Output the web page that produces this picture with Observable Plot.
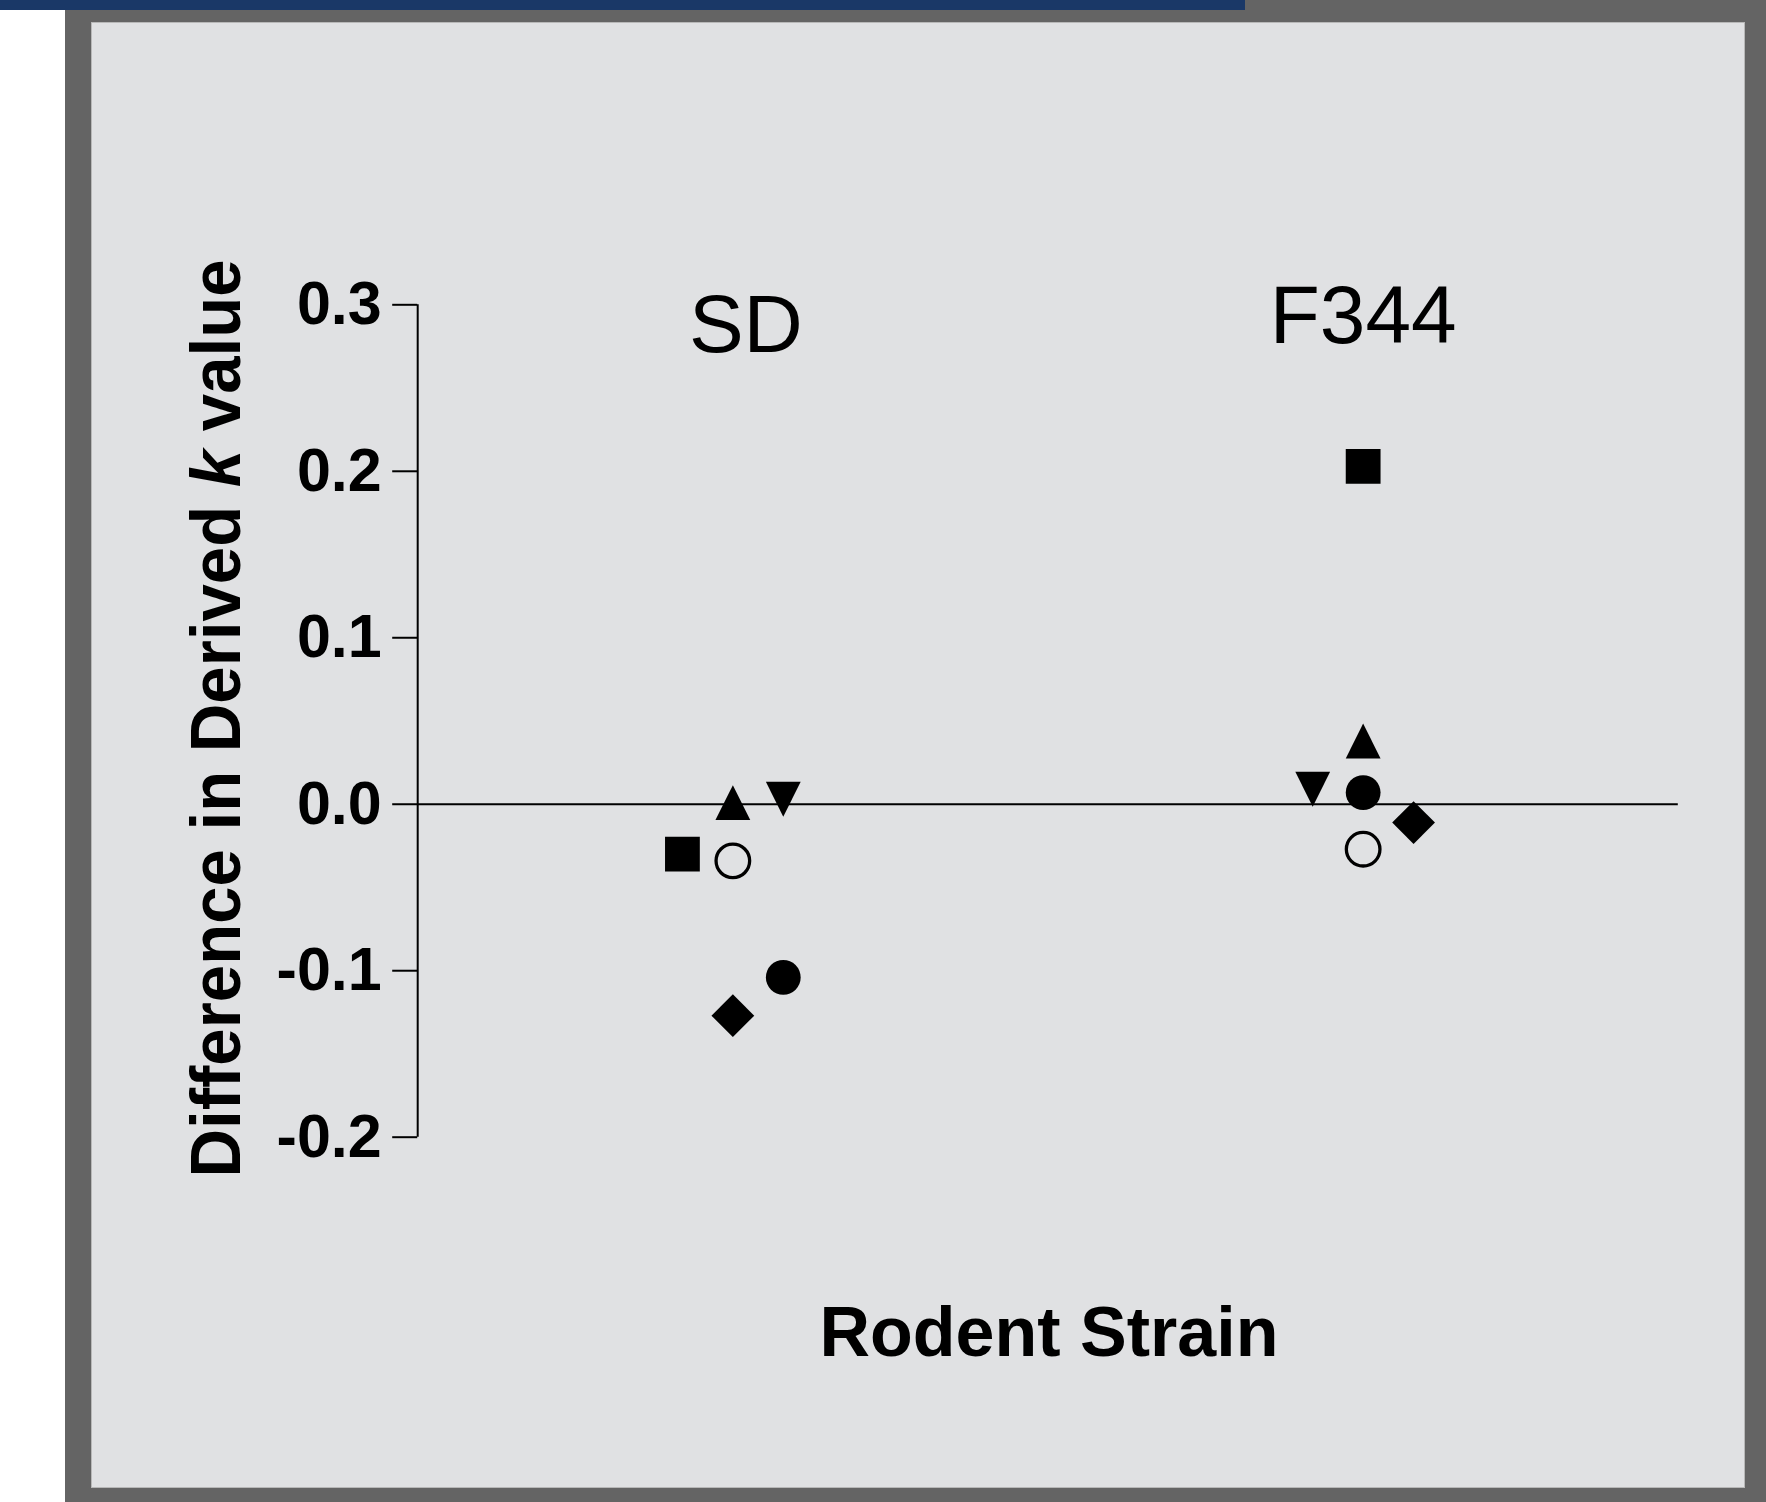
<!DOCTYPE html>
<html>
<head>
<meta charset="utf-8">
<script src="https://cdn.jsdelivr.net/npm/d3@7"></script>
<script src="https://cdn.jsdelivr.net/npm/@observablehq/plot@0.6"></script>
<style>
  html, body { margin: 0; padding: 0; background: #ffffff; }
  body { width: 1766px; height: 1502px; position: relative; overflow: hidden; font-family: "Liberation Sans", Arial, sans-serif; }
  #frame { position: absolute; left: 65px; top: 0; width: 1701px; height: 1502px; background: #646464; }
  #bar { position: absolute; left: 0; top: 0; width: 1245px; height: 10px; background: #1a3867; }
  #panel { position: absolute; left: 91px; top: 22px; width: 1652px; height: 1464px; background: #e0e1e3; border: 1px solid #b8b8b8; }
  #chart { position: absolute; left: 0; top: 0; }
</style>
</head>
<body>
<div id="frame"></div>
<div id="bar"></div>
<div id="panel"></div>
<div id="chart"></div>
<script>
// ---- data ----
const strains = ["SD", "F344"];
const yTicks = [-0.2, -0.1, 0.0, 0.1, 0.2, 0.3];
const yTitle = "Difference in Derived k value";
const xTitle = "Rodent Strain";

// values per symbol series, one per strain (SD, F344)
const squareVals   = [-0.030, 0.203];
const triUpVals    = [0.001, 0.038];
const triDownVals  = [0.003, 0.009];
const dotVals      = [-0.104, 0.007];
const diamondVals  = [-0.127, -0.011];
const openVals     = [-0.034, -0.027];

// horizontal slot within each strain (-1 left, 0 centre, +1 right)
const squareSlot  = [-1, 0];
const triUpSlot   = [0, 0];
const triDownSlot = [1, -1];
const dotSlot     = [1, 0];
const diamondSlot = [0, 1];
const openSlot    = [0, 0];

const slotWidth = 0.08;
const rows = (vals, slots) => vals.map((v, i) => ({strain: strains[i], pos: i + slots[i] * slotWidth, value: v}));

// ---- custom symbols ----
const rad = (size) => Math.sqrt(size / Math.PI);
const symSquare = {draw(c, s) { const r = rad(s); c.rect(-r, -r, 2 * r, 2 * r); }};
const symTriUp = {draw(c, s) { const r = rad(s); c.moveTo(0, -r); c.lineTo(r, r); c.lineTo(-r, r); c.closePath(); }};
const symTriDown = {draw(c, s) { const r = rad(s); c.moveTo(-r, -r); c.lineTo(r, -r); c.lineTo(0, r); c.closePath(); }};
const symDiamond = {draw(c, s) { const r = rad(s); c.moveTo(0, -r); c.lineTo(r, 0); c.lineTo(0, r); c.lineTo(-r, 0); c.closePath(); }};
const symCircle = {draw(c, s) { const r = rad(s); c.moveTo(r, 0); c.arc(0, 0, r, 0, 2 * Math.PI); }};

const dotOpts = (sym, r) => ({x: "pos", y: "value", symbol: sym, r, fill: "black", stroke: "none"});

const chart = Plot.plot({
  width: 1766,
  height: 1502,
  marginLeft: 417.2,
  marginRight: 88.2,
  marginTop: 304.3,
  marginBottom: 365.3,
  style: {background: "transparent", overflow: "visible", fontFamily: "'Liberation Sans', Arial, sans-serif", color: "black"},
  x: {domain: [-0.5, strains.length - 0.5], axis: null},
  y: {domain: [yTicks[0], yTicks[yTicks.length - 1]], axis: null},
  marks: [
    Plot.ruleX([-0.5], {y1: yTicks[0], y2: yTicks[yTicks.length - 1], stroke: "black", strokeWidth: 2}),
    Plot.ruleY([0], {stroke: "black", strokeWidth: 2}),
    Plot.axisY({ticks: yTicks, tickFormat: d => d.toFixed(1), tickSize: 25, tickPadding: 11, fontSize: 61, fontWeight: "bold", strokeWidth: 2, stroke: "black", fill: "black", label: null, anchor: "left"}),
    Plot.dot(rows(squareVals, squareSlot), dotOpts(symSquare, 17.4)),
    Plot.dot(rows(triUpVals, triUpSlot), dotOpts(symTriUp, 17.4)),
    Plot.dot(rows(triDownVals, triDownSlot), dotOpts(symTriDown, 17.4)),
    Plot.dot(rows(dotVals, dotSlot), dotOpts(symCircle, 17.4)),
    Plot.dot(rows(diamondVals, diamondSlot), dotOpts(symDiamond, 21.4)),
    Plot.dot(rows(openVals, openSlot), {x: "pos", y: "value", symbol: symCircle, r: 16.8, fill: "none", stroke: "black", strokeWidth: 3.3}),
    Plot.text(strains, {filter: (d, i) => i === 0, x: (d, i) => i, text: d => d, frameAnchor: "top", lineAnchor: "bottom", dx: 13, dy: 46.7, fontSize: 82, fill: "black"}),
    Plot.text(strains, {filter: (d, i) => i === 1, x: (d, i) => i, text: d => d, frameAnchor: "top", lineAnchor: "bottom", dx: 0, dy: 37.7, fontSize: 82, fill: "black"}),
    Plot.text([yTitle], {text: d => d, frameAnchor: "left", rotate: -90, lineAnchor: "bottom", textAnchor: "middle", dx: -177.7, dy: -2.5, fontSize: 70, fontWeight: "bold", fill: "black"}),
    Plot.text([xTitle], {text: d => d, frameAnchor: "bottom", lineAnchor: "bottom", dx: 1, dy: 218.3, fontSize: 70, fontWeight: "bold", fill: "black"})
  ]
});

// italic "k" in the y title, slight condensing
chart.querySelectorAll("text").forEach(t => {
  if (t.textContent === yTitle) {
    const parts = yTitle.split(" k ");
    while (t.firstChild) t.removeChild(t.firstChild);
    const ns = "http://www.w3.org/2000/svg";
    const a = document.createElementNS(ns, "tspan"); a.textContent = parts[0] + " ";
    const k = document.createElementNS(ns, "tspan"); k.textContent = "k"; k.setAttribute("font-style", "italic");
    const b = document.createElementNS(ns, "tspan"); b.textContent = " " + parts[1];
    t.appendChild(a); t.appendChild(k); t.appendChild(b);
    t.setAttribute("textLength", "918");
    t.setAttribute("lengthAdjust", "spacingAndGlyphs");
  }
});

document.getElementById("chart").appendChild(chart);
</script>
</body>
</html>
